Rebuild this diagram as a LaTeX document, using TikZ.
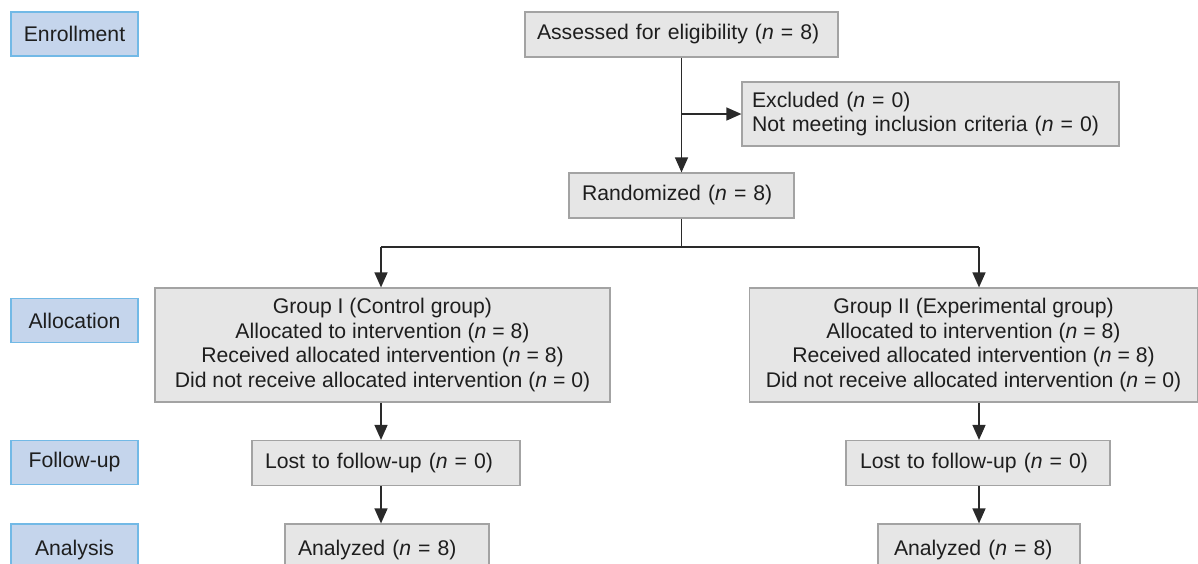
\documentclass[tikz,border=0pt]{standalone}
\usepackage{fontspec}
\setmainfont{Liberation Sans}
\usetikzlibrary{arrows.meta}
\definecolor{stageFill}{HTML}{C5D5EC}
\definecolor{stageLine}{HTML}{72B9E6}
\definecolor{boxFill}{HTML}{E6E6E6}
\definecolor{boxLine}{HTML}{A3A3A3}
\definecolor{arrowCol}{HTML}{2A2A2A}
\definecolor{txt}{HTML}{1E1E1E}
\newcommand{\nn}{\textit{n}}
\tikzset{
  stage/.style={draw=stageLine, fill=stageFill, line width=1.3pt, minimum width=127pt, minimum height=44pt, inner sep=0pt, text=txt, font=\fontsize{21.2}{24}\selectfont},
  flowbox/.style={draw=boxLine, fill=boxFill, line width=1.2pt, inner sep=0pt, text=txt, font=\fontsize{21.2}{24.4}\selectfont, align=center},
  leftbox/.style={flowbox, align=left, inner xsep=12pt},
  conn/.style={draw=arrowCol, line width=1.4pt},
  arr/.style={conn, -{Triangle[length=15pt,width=13pt]}}
}
\begin{document}
\begin{tikzpicture}[x=1pt,y=-1pt]
\useasboundingbox (0,0) rectangle (1198,563);
% stage labels
\node[stage] (enr) at (74.5,34) {Enrollment};
\node[stage] (alloc) at (74.5,320.5) {Allocation};
\node[stage] (fu) at (74.5,462.5) {Follow-up};
\node[stage, minimum height=52pt] (ana) at (74.5,550) {Analysis};
% column coordinates
\coordinate (c0) at (681.5,0);
\coordinate (c1) at (381,0);
\coordinate (c2) at (979,0);
\coordinate (jy) at (0,247);
\coordinate (ey) at (0,114);
% boxes
\node[leftbox, text width=289pt, minimum height=45pt] (assess) at (681.5,34.5) {Assessed for eligibility (\nn{} = 8)};
\node[leftbox, inner xsep=10pt, text width=357pt, minimum height=64pt] (excl) at (930.5,114) {Excluded (\nn{} = 0)\\Not meeting inclusion criteria (\nn{} = 0)};
\node[leftbox, inner xsep=13pt, text width=199pt, minimum height=45pt] (rand) at (681.5,195.5) {Randomized (\nn{} = 8)};
\node[flowbox, minimum width=455pt, minimum height=114pt] (g1) at (382.5,345) {Group I (Control group)\\Allocated to intervention (\nn{} = 8)\\Received allocated intervention (\nn{} = 8)\\Did not receive allocated intervention (\nn{} = 0)};
\node[flowbox, minimum width=448pt, minimum height=114pt] (g2) at (973.5,345) {Group II (Experimental group)\\Allocated to intervention (\nn{} = 8)\\Received allocated intervention (\nn{} = 8)\\Did not receive allocated intervention (\nn{} = 0)};
\node[leftbox, inner xsep=13pt, text width=242pt, minimum height=45pt] (lost1) at (386,463) {Lost to follow-up (\nn{} = 0)};
\node[leftbox, inner xsep=14pt, text width=236pt, minimum height=45pt] (lost2) at (978,463) {Lost to follow-up (\nn{} = 0)};
\node[leftbox, inner xsep=13pt, text width=178pt, minimum height=52pt] (ana1) at (387,550) {Analyzed (\nn{} = 8)};
\node[leftbox, inner xsep=16pt, text width=170pt, minimum height=52pt] (ana2) at (979,550) {Analyzed (\nn{} = 8)};
% connectors
\draw[arr] (c0 |- assess.south) -- (c0 |- rand.north);
\draw[arr] (c0 |- ey) -- (excl.west |- ey);
\draw[conn] (c0 |- rand.south) -- (c0 |- jy);
\draw[conn] (c1 |- jy) -- (c2 |- jy);
\draw[arr] (c1 |- jy) -- (c1 |- g1.north);
\draw[arr] (c2 |- jy) -- (c2 |- g2.north);
\draw[arr] (c1 |- g1.south) -- (c1 |- lost1.north);
\draw[arr] (c2 |- g2.south) -- (c2 |- lost2.north);
\draw[arr] (c1 |- lost1.south) -- (c1 |- ana1.north);
\draw[arr] (c2 |- lost2.south) -- (c2 |- ana2.north);
\end{tikzpicture}
\end{document}
